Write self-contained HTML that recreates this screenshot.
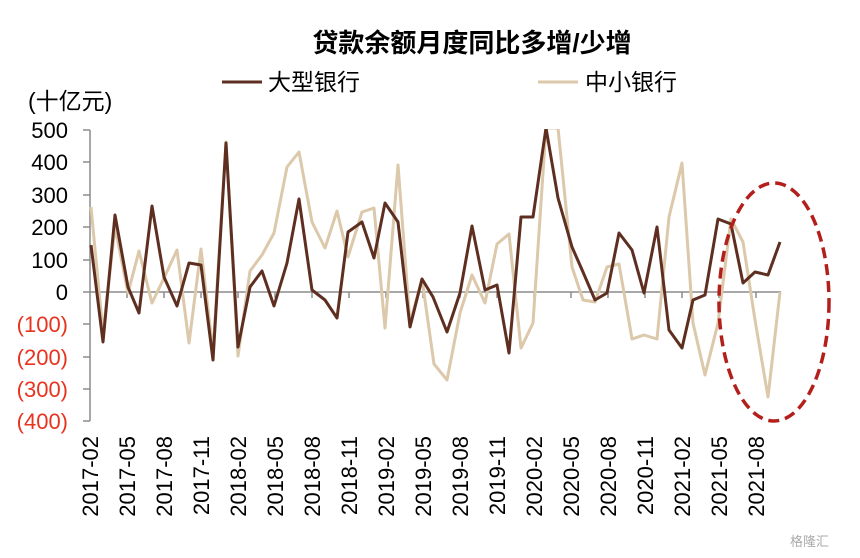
<!DOCTYPE html>
<html><head><meta charset="utf-8"><style>
html,body{margin:0;padding:0;background:#fff;}
svg{display:block;font-family:"Liberation Sans","Noto Sans CJK SC",sans-serif;}
</style></head><body>
<svg width="860" height="558" viewBox="0 0 860 558" xmlns="http://www.w3.org/2000/svg">
<rect width="860" height="558" fill="#fff"/>
<text x="472" y="52" font-size="26" font-weight="bold" text-anchor="middle" fill="#000">贷款余额月度同比多增/少增</text>
<line x1="222" y1="82" x2="262" y2="82" stroke="#5e2f20" stroke-width="3"/>
<text x="268" y="90" font-size="23" fill="#000">大型银行</text>
<line x1="538" y1="82" x2="578" y2="82" stroke="#dcc8aa" stroke-width="3"/>
<text x="585" y="90" font-size="23" fill="#000">中小银行</text>
<text x="28" y="109" font-size="23" fill="#000">(十亿元)</text>
<g font-size="22" text-anchor="end">
<text x="68" y="138" fill="#000">500</text>
<text x="68" y="170" fill="#000">400</text>
<text x="68" y="203" fill="#000">300</text>
<text x="68" y="235" fill="#000">200</text>
<text x="68" y="268" fill="#000">100</text>
<text x="68" y="300" fill="#000">0</text>
<text x="68" y="332" fill="#e8331e">(100)</text>
<text x="68" y="365" fill="#e8331e">(200)</text>
<text x="68" y="397" fill="#e8331e">(300)</text>
<text x="68" y="429" fill="#e8331e">(400)</text>
</g>
<g stroke="#8c8c8c" stroke-width="1.5">
<line x1="90" y1="130" x2="90" y2="421"/>
<line x1="83" y1="130" x2="90" y2="130"/><line x1="83" y1="162" x2="90" y2="162"/>
<line x1="83" y1="195" x2="90" y2="195"/><line x1="83" y1="227" x2="90" y2="227"/>
<line x1="83" y1="260" x2="90" y2="260"/><line x1="83" y1="292" x2="90" y2="292"/>
<line x1="83" y1="324" x2="90" y2="324"/><line x1="83" y1="357" x2="90" y2="357"/>
<line x1="83" y1="389" x2="90" y2="389"/><line x1="83" y1="421" x2="90" y2="421"/>
<line x1="90" y1="292" x2="781" y2="292"/>
</g>
<g stroke="#8c8c8c" stroke-width="1.5">
<line x1="127" y1="292" x2="127" y2="298"/><line x1="164" y1="292" x2="164" y2="298"/>
<line x1="201" y1="292" x2="201" y2="298"/><line x1="238" y1="292" x2="238" y2="298"/>
<line x1="275" y1="292" x2="275" y2="298"/><line x1="312" y1="292" x2="312" y2="298"/>
<line x1="349" y1="292" x2="349" y2="298"/><line x1="386" y1="292" x2="386" y2="298"/>
<line x1="423" y1="292" x2="423" y2="298"/><line x1="460" y1="292" x2="460" y2="298"/>
<line x1="497" y1="292" x2="497" y2="298"/><line x1="534" y1="292" x2="534" y2="298"/>
<line x1="571" y1="292" x2="571" y2="298"/><line x1="608" y1="292" x2="608" y2="298"/>
<line x1="645" y1="292" x2="645" y2="298"/><line x1="682" y1="292" x2="682" y2="298"/>
<line x1="719" y1="292" x2="719" y2="298"/><line x1="756" y1="292" x2="756" y2="298"/>
</g>
<g font-size="22" fill="#000" text-anchor="end">
<text transform="translate(98,436) rotate(-90)">2017-02</text>
<text transform="translate(135,436) rotate(-90)">2017-05</text>
<text transform="translate(172,436) rotate(-90)">2017-08</text>
<text transform="translate(209,436) rotate(-90)">2017-11</text>
<text transform="translate(246,436) rotate(-90)">2018-02</text>
<text transform="translate(283,436) rotate(-90)">2018-05</text>
<text transform="translate(320,436) rotate(-90)">2018-08</text>
<text transform="translate(357,436) rotate(-90)">2018-11</text>
<text transform="translate(394,436) rotate(-90)">2019-02</text>
<text transform="translate(431,436) rotate(-90)">2019-05</text>
<text transform="translate(468,436) rotate(-90)">2019-08</text>
<text transform="translate(505,436) rotate(-90)">2019-11</text>
<text transform="translate(542,436) rotate(-90)">2020-02</text>
<text transform="translate(579,436) rotate(-90)">2020-05</text>
<text transform="translate(616,436) rotate(-90)">2020-08</text>
<text transform="translate(653,436) rotate(-90)">2020-11</text>
<text transform="translate(690,436) rotate(-90)">2021-02</text>
<text transform="translate(727,436) rotate(-90)">2021-05</text>
<text transform="translate(764,436) rotate(-90)">2021-08</text>
</g>
<defs><clipPath id="c"><rect x="85" y="129" width="720" height="300"/></clipPath></defs>
<g clip-path="url(#c)" fill="none" stroke-width="3" stroke-linejoin="round">
<polyline stroke="#dcc8aa" points="91,207 103,333 115,227 128,293 139,251 152,303 164,278 177,250 189,343 201,249 213,352 226,142 238,356 250,271 262,255 274,233 287,167 299,152 312,222 325,248 337,211 348,257 362,212 374,208 385,328 398,165 410,323 422,279 434,364 447,380 460,313 472,275 485,303 497,244 509,234 521,348 533,323 546,128 558,128 572,267 583,300 595,302 607,267 619,264 632,339 644,335 657,339 669,217 682,163 693,323 705,375 718,323 731,219 743,242 755,320 768,397 780,292"/>
<polyline stroke="#5e2f20" points="91,245 103,342 115,215 128,287 139,313 152,206 164,277 177,306 189,263 201,265 213,360 226,143 238,347 250,287 262,271 274,306 287,263 299,199 312,290 325,300 337,318 348,232 362,222 374,258 385,203 398,222 410,327 422,279 433,297 447,332 460,293 472,226 485,290 497,285 509,353 521,217 533,217 546,128 558,198 572,247 583,272 595,300 607,293 619,233 632,250 644,293 657,227 669,330 682,348 693,300 705,295 718,219 731,224 743,283 755,272 768,275 780,242"/>
</g>
<ellipse cx="774" cy="302" rx="55" ry="119" fill="none" stroke="#b3201c" stroke-width="3.5" stroke-dasharray="11,6"/>
<text x="790" y="546" font-size="13" fill="#aaa">格隆汇</text>
</svg>
</body></html>
